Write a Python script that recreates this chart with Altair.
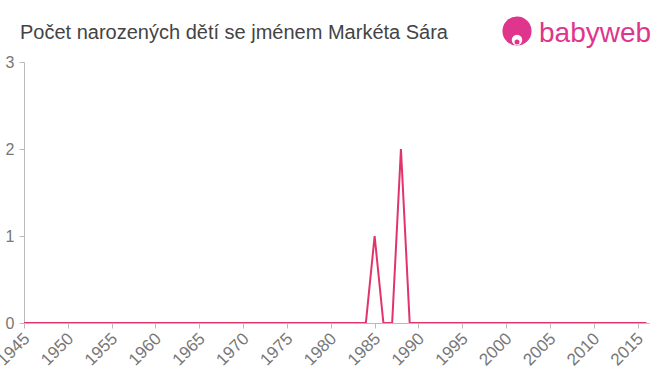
import altair as alt
import pandas as pd

years = list(range(1945, 2017))
nonzero = {1985: 1, 1988: 2}
counts = [nonzero.get(y, 0) for y in years]

title_text = "Počet narozených dětí se jménem Markéta Sára"
logo_text = "babyweb"
x_ticks = list(range(1945, 2016, 5))
y_ticks = [0, 1, 2, 3]

df = pd.DataFrame({"year": years, "count": counts})

line = alt.Chart(df).mark_line(color="#e0346b", strokeWidth=2, clip=True).encode(
    x=alt.X("year:Q", scale=alt.Scale(domain=[1945, 2016.3], nice=False, zero=False),
            axis=alt.Axis(values=x_ticks, format="d", labelAngle=-45, title=None,
                          grid=False, domainColor="#bbbbbb", tickColor="#bbbbbb",
                          tickSize=5, labelColor="#777777", labelFontSize=17,
                          labelFont="Liberation Sans", labelPadding=2, labelOffset=-3,
                          labelOverlap=False, labelFlush=False)),
    y=alt.Y("count:Q", scale=alt.Scale(domain=[0, 3], nice=False),
            axis=alt.Axis(values=y_ticks, format="d", title=None, grid=False,
                          domainColor="#bbbbbb", tickColor="#bbbbbb", tickSize=5,
                          labelColor="#777777", labelFontSize=16,
                          labelFont="Liberation Sans", labelPadding=5)),
)

title_df = pd.DataFrame({"t": [title_text]})
title = alt.Chart(title_df).mark_text(color="#444444", fontSize=20, font="Liberation Sans",
                                      align="left", baseline="alphabetic").encode(
    x=alt.value(-4), y=alt.value(-23), text="t:N"
)

logo_df = pd.DataFrame({"t": [logo_text]})
logo_circle = alt.Chart(logo_df).mark_point(filled=True, color="#e0358c", size=850, opacity=1).encode(
    x=alt.value(493), y=alt.value(-31)
)
logo_face = alt.Chart(logo_df).mark_point(filled=True, color="white", size=110, opacity=1).encode(
    x=alt.value(493), y=alt.value(-22)
)
logo_dot = alt.Chart(logo_df).mark_point(filled=True, color="#e0358c", size=25, opacity=1).encode(
    x=alt.value(493), y=alt.value(-20)
)
logo = alt.Chart(logo_df).mark_text(color="#e0358c", fontSize=28, font="Liberation Sans",
                                   align="left", baseline="alphabetic").encode(
    x=alt.value(515), y=alt.value(-20), text="t:N"
)

chart = alt.layer(line, title, logo_circle, logo_face, logo_dot, logo).properties(
    width=625, height=261,
    background="white",
    autosize=alt.AutoSizeParams(type="none"),
    padding={"left": 24, "top": 62, "right": 11, "bottom": 52},
).configure_view(stroke=None)

chart.save("out.html", embed_options={"renderer": "svg", "actions": False})
